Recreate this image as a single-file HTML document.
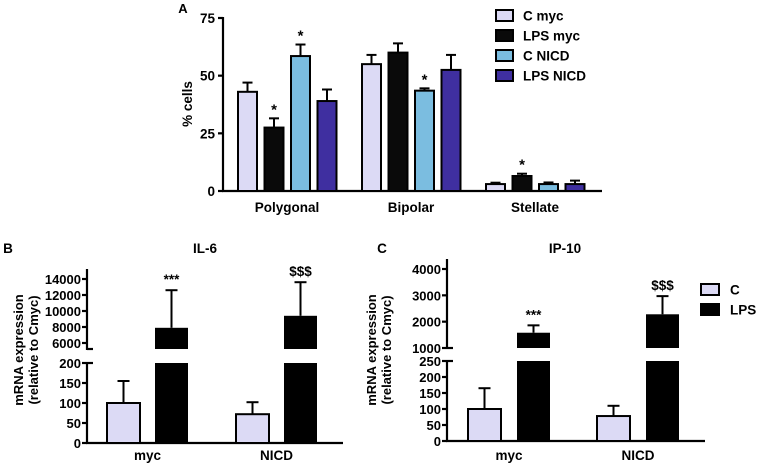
<!DOCTYPE html>
<html><head><meta charset="utf-8"><style>
body{margin:0;background:#fff}
svg{display:block;font-family:"Liberation Sans",Arial,sans-serif;font-weight:bold}
</style></head><body>
<svg id="s" width="758" height="466" viewBox="0 0 758 466" xmlns="http://www.w3.org/2000/svg"></svg>
<script>
// Panel A data
const aCategories=["Polygonal","Bipolar","Stellate"];
const aSeries=["C myc","LPS myc","C NICD","LPS NICD"];
const aColors=["#dcdaf5","#0a0a0a","#7bbde0","#3f2fa0"];
const aValues=[[43,55,3],[27.5,60,6.5],[58.5,43.5,3],[39,52.5,3]];
const aErrors=[[4,4,0.6],[4,4,1],[5,1,0.7],[5,6.5,1.5]];
const aStars=[[0,0,0],[1,0,1],[1,1,0],[0,0,0]];
const aTicks=[0,25,50,75];
// Panel B data (IL-6)
const bCategories=["myc","NICD"];
const bC=[100,72], bCerr=[55,30];
const bLPS=[7900,9400], bLPSerr=[4700,4200];
const bMarks=["***","$$$"];
const bLowTicks=[0,50,100,150,200];
const bHighTicks=[6000,8000,10000,12000,14000];
// Panel C data (IP-10)
const cC=[100,78], cCerr=[65,32];
const cLPS=[1580,2280], cLPSerr=[280,690];
const cLowTicks=[0,50,100,150,200,250];
const cHighTicks=[1000,2000,3000,4000];

const s=document.getElementById('s');
const NS="http://www.w3.org/2000/svg";
function el(t,a,txt){const e=document.createElementNS(NS,t);for(const k in a)e.setAttribute(k,a[k]);if(txt!==undefined)e.textContent=txt;s.appendChild(e);return e;}
function line(x1,y1,x2,y2,w){return el('line',{x1,y1,x2,y2,stroke:'#000','stroke-width':w||2.2});}
function text(x,y,t,size,anchor,rot){const a={x,y,'font-size':size,'text-anchor':anchor||'middle',fill:'#000'};if(rot)a.transform=`rotate(-90 ${x} ${y})`;return el('text',a,t);}

// ---- Panel A ----
const ay=v=>191-v*(173/75);
const ax=(g,i)=>238+g*124+i*26.5;
let t=text(183,13,"A",13);
line(223,17,223,192);line(222,191,602,191);
aTicks.forEach(v=>{line(218,ay(v),223,ay(v));let tt=text(215,ay(v)+5,v,13.5,'end');});
t=text(192,104,"% cells",13.5,'middle',true);
aCategories.forEach((c,g)=>{let tt=text(ax(g,0)+49,212,c,13.5);});
aSeries.forEach((sn,i)=>{aCategories.forEach((c,g)=>{
  const x=ax(g,i),v=aValues[i][g],e=aErrors[i][g],cx=x+9.5;
  line(cx,ay(v),cx,ay(v+e),2);line(cx-5,ay(v+e),cx+5,ay(v+e),2);
  const r=el('rect',{x,y:ay(v),width:19,height:191-ay(v),fill:aColors[i],stroke:'#000','stroke-width':2});
  
  if(aStars[i][g]){let st=text(cx,ay(v+e)-4,"*",15);}
});
 const ly=10+i*20;
 const lb=el('rect',{x:496,y:ly,width:17,height:11,fill:aColors[i],stroke:'#000','stroke-width':2});
 let lt=text(523,ly+10.5,sn,13.5,'start');
});

// ---- broken-axis panels ----
function panel(o){
  const lowY=v=>o.y0-v*(o.y0-o.lowTopY)/o.lowMax;
  const hiY=v=>o.hiTopY+(o.hiMax-v)*(o.hiBotY-o.hiTopY)/(o.hiMax-o.hiMin);
  let tt=text(o.titleX,253,o.title,13.5);
  line(o.ax,o.hiTopY-10,o.ax,o.hiBotY+1);line(o.ax,o.lowTopY,o.ax,o.y0+1);
  line(o.ax,o.hiBotY,o.ax+6,o.hiBotY);line(o.ax,o.lowTopY,o.ax+6,o.lowTopY);
  line(o.ax-1,o.y0,o.axEnd,o.y0);
  o.lowTicks.forEach(v=>{line(o.ax-5,lowY(v),o.ax,lowY(v));let k=text(o.ax-6,lowY(v)+5,v,13,'end');});
  o.hiTicks.forEach(v=>{line(o.ax-5,hiY(v),o.ax,hiY(v));let k=text(o.ax-6,hiY(v)+5,v,13,'end');});
  let y1=text(o.ax+o.t1,o.titleYc,"mRNA expression",13,'middle',true);
  let y2=text(o.ax+o.t2,o.titleYc,"(relative to Cmyc)",13,'middle',true);
  bCategories.forEach((c,g)=>{
    const xc=o.x0+g*o.pitch, xl=xc+o.gap, w=33;
    const v=o.C[g],e=o.Cerr[g];
    line(xc+w/2,lowY(v),xc+w/2,lowY(v+e),2);line(xc+w/2-6,lowY(v+e),xc+w/2+6,lowY(v+e),2);
    let r=el('rect',{x:xc,y:lowY(v),width:w,height:o.y0-lowY(v),fill:'#dcdaf5',stroke:'#000','stroke-width':2});
    
    const L=o.L[g],Le=o.Lerr[g];
    r=el('rect',{x:xl,y:o.lowTopY,width:w,height:o.y0-o.lowTopY,fill:'#000'});
    
    r=el('rect',{x:xl,y:hiY(L),width:w,height:o.hiBotY-hiY(L),fill:'#000'});
    
    line(xl+w/2,hiY(L),xl+w/2,hiY(L+Le),2);line(xl+w/2-6,hiY(L+Le),xl+w/2+6,hiY(L+Le),2);
    let m=text(xl+w/2,hiY(L+Le)-6,bMarks[g],13.5);
    let xl2=text((xc+xl+w)/2,460,c,13.5);
  });
}
t=text(8,253,"B",13.5);
panel({title:"IL-6",titleX:205,titleYc:350,ax:87,axEnd:343,y0:443,lowTopY:363,lowMax:200,hiTopY:279,hiBotY:349,hiMax:14000,hiMin:5250,lowTicks:bLowTicks,hiTicks:bHighTicks,x0:107,pitch:129,gap:48,C:bC,Cerr:bCerr,L:bLPS,Lerr:bLPSerr,t1:-64,t2:-49});
t=text(382,253,"C",13.5);
panel({title:"IP-10",titleX:565,titleYc:350,ax:447,axEnd:705,y0:441,lowTopY:361,lowMax:250,hiTopY:269,hiBotY:348,hiMax:4000,hiMin:1000,lowTicks:cLowTicks,hiTicks:cHighTicks,x0:468,pitch:129,gap:49,C:cC,Cerr:cCerr,L:cLPS,Lerr:cLPSerr,t1:-71,t2:-56});
[["C","#dcdaf5"],["LPS","#000"]].forEach((d,i)=>{
  const r=el('rect',{x:701,y:284+i*20,width:18,height:11,fill:d[1],stroke:'#000','stroke-width':2});
  
  const lt=text(730,294.5+i*20,d[0],13.5,'start');
});
</script>
</body></html>
